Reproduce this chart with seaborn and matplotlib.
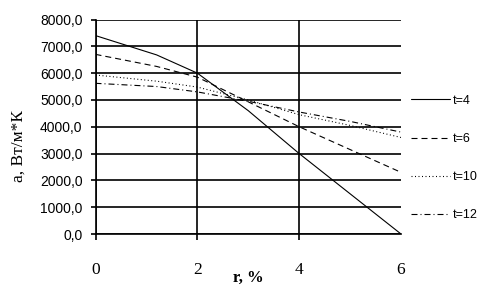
import numpy as np
import pandas as pd
import matplotlib
matplotlib.use("Agg")
import matplotlib.pyplot as plt
import seaborn as sns
from matplotlib.ticker import FuncFormatter

r_values = [0, 1.2, 2, 3, 4, 5, 6]
a_t4 = [7400, 6680, 6000, 4600, 3000, 1500, 0]
a_t6 = [6700, 6250, 5850, 4930, 4000, 3150, 2300]
a_t10 = [5930, 5700, 5480, 5000, 4450, 4050, 3600]
a_t12 = [5620, 5500, 5300, 4950, 4550, 4200, 3800]
series_labels = ["t=4", "t=6", "t=10", "t=12"]
x_ticks = [0, 2, 4, 6]
y_ticks = [0, 1000, 2000, 3000, 4000, 5000, 6000, 7000, 8000]

rows = []
for lab, vals in zip(series_labels, [a_t4, a_t6, a_t10, a_t12]):
    for r, a in zip(r_values, vals):
        rows.append({"r": r, "a": a, "t": lab})
df = pd.DataFrame(rows)

sns.set_style("white")
plt.rcParams["lines.scale_dashes"] = False

fig = plt.figure(figsize=(4.94, 2.95), dpi=100)
ax = fig.add_axes([95.5 / 494, 1 - 234 / 295, (401 - 95.5) / 494, (234 - 19.5) / 295])

px = 0.72  # points per pixel
dashes = {
    "t=4": "",
    "t=6": (6 * px, 4 * px),
    "t=10": (1 * px, 2.5 * px),
    "t=12": (6 * px, 3 * px, 1 * px, 3 * px),
}
sns.lineplot(data=df, x="r", y="a", style="t", style_order=series_labels,
             dashes=dashes, color="black", linewidth=0.8, legend=False, ax=ax,
             estimator=None, sort=False)

ax.set_xlim(0, 6)
ax.set_ylim(0, 8000)
ax.set_xticks(x_ticks)
ax.set_yticks(y_ticks)
ax.yaxis.set_major_formatter(FuncFormatter(lambda v, p: f"{v:.1f}".replace(".", ",")))

ax.grid(True, color="black", linewidth=1.2)
ax.get_xgridlines()[-1].set_visible(False)
ax.spines["right"].set_visible(False)
ax.spines["top"].set_visible(False)
for s in ["left", "bottom"]:
    ax.spines[s].set_visible(True)
    ax.spines[s].set_color("black")
    ax.spines[s].set_linewidth(1.2)

ax.tick_params(axis="y", direction="out", length=5 * px, width=1.2, color="black",
               pad=8 * px, labelsize=10, labelcolor="black", left=True)
ax.tick_params(axis="x", direction="out", length=6 * px, width=1.2, color="black",
               pad=22 * px, labelsize=12.5, labelcolor="black", bottom=True)
ax.xaxis.get_major_ticks()[-1].tick1line.set_visible(False)
for lbl in ax.get_yticklabels():
    lbl.set_family("Liberation Sans")
for lbl in ax.get_xticklabels():
    lbl.set_family("Liberation Serif")

ax.set_xlabel("r, %", family="Liberation Serif", fontweight="bold", fontsize=12, color="black")
ax.xaxis.set_label_coords(0.5, -0.165)
ax.set_ylabel("a, Вт/м*К", family="Liberation Serif", fontsize=12.5, color="black")
ax.yaxis.set_label_coords(-0.225, 0.41)

handles = ax.lines[:4]
leg = ax.legend(handles=handles, labels=series_labels, loc="center left",
                bbox_to_anchor=(411 / 494, 1 - 158 / 295), bbox_transform=fig.transFigure,
                frameon=False, borderpad=0, borderaxespad=0,
                prop={"family": "Liberation Sans", "size": 9},
                handlelength=3.1, handletextpad=0.25, labelspacing=2.1)
for t in leg.get_texts():
    t.set_color("black")

fig.savefig("out.png", dpi=100, facecolor="white")
